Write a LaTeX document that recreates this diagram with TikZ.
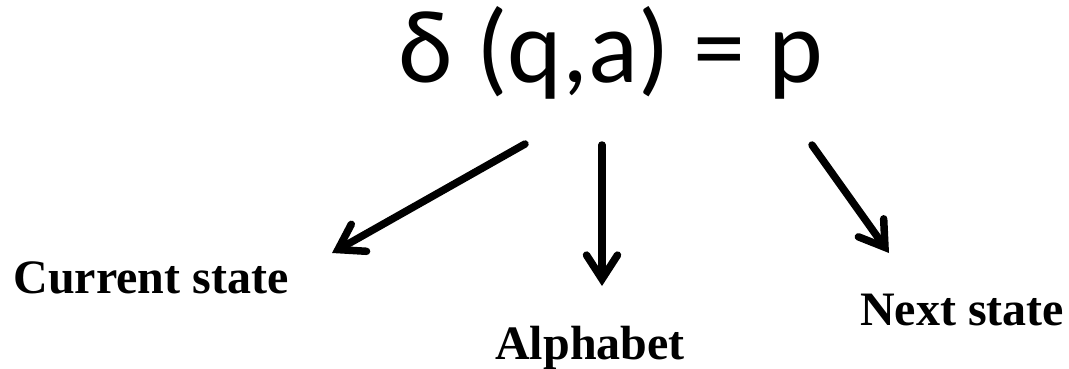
\documentclass[tikz,border=0pt]{standalone}
\usepackage{fontspec}
\setmainfont{Liberation Serif}
\newfontfamily\titlefont{Carlito}
\usetikzlibrary{arrows.meta}
\tikzset{
  lbl/.style={font=\fontsize{48}{52}\selectfont\bfseries, anchor=base, inner sep=0pt},
  arr/.style={line width=7.5pt, line cap=round,
    -{Straight Barb[length=24pt,width=31pt,line cap=round,line join=miter]}}
}
\begin{document}
\begin{tikzpicture}[x=1pt,y=-1pt]
\useasboundingbox (0,0) rectangle (1069,368);
\node[font=\titlefont\fontsize{104}{114}\selectfont, anchor=base, inner sep=0pt] (t) at (611,82) {δ (q,a) = p};
\coordinate (s1) at (525,144);
\coordinate (e1) at (332,253);
\coordinate (s2) at (602,145);
\coordinate (e2) at (602,286);
\coordinate (s3) at (812,145);
\coordinate (e3) at (889,253);
\draw[arr] (s1) -- (e1);
\draw[arr] (s2) -- (e2);
\draw[arr] (s3) -- (e3);
\node[lbl] (cs) at (151,293) {Current state};
\node[lbl] (al) at (590,359) {Alphabet};
\node[lbl] (ns) at (962,325) {Next state};
\end{tikzpicture}
\end{document}
